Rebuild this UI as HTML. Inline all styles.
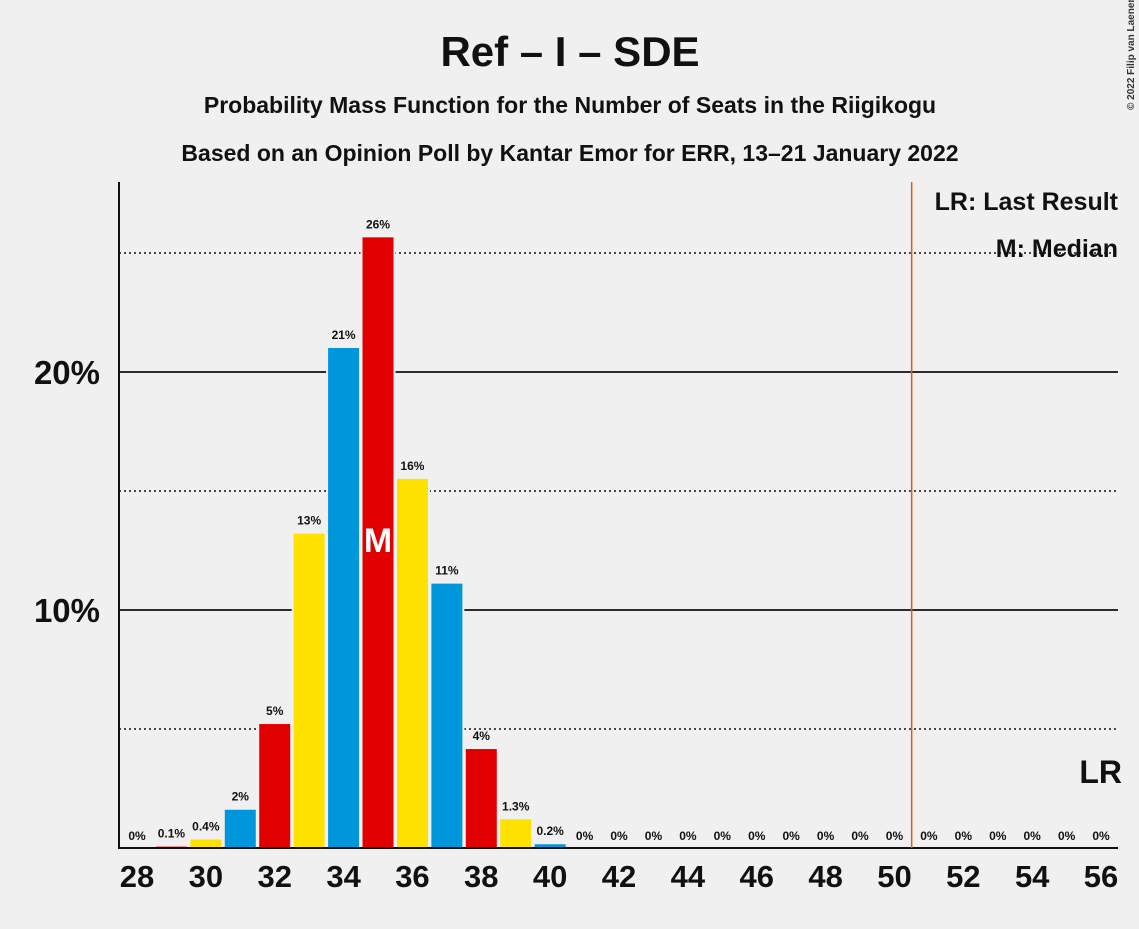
<!DOCTYPE html>
<html><head><meta charset="utf-8"><style>
body{margin:0;background:#f0f0f0;font-family:"Liberation Sans",sans-serif;}
svg text{font-family:"Liberation Sans",sans-serif;font-weight:bold;}
</style></head><body>
<svg id="c" width="1139" height="924" xmlns="http://www.w3.org/2000/svg">
<rect width="1139" height="924" fill="#f0f0f0"/>
<text x="570" y="66" text-anchor="middle" font-size="42" fill="#111">Ref – I – SDE</text>
<text x="570" y="113" text-anchor="middle" font-size="23" fill="#111">Probability Mass Function for the Number of Seats in the Riigikogu</text>
<text x="570" y="161" text-anchor="middle" font-size="23" fill="#111">Based on an Opinion Poll by Kantar Emor for ERR, 13–21 January 2022</text>
<text transform="translate(1134,110) rotate(-90)" font-size="10" font-weight="normal" fill="#333">© 2022 Filip van Laenen</text>
<g id="grid"></g><g id="bars"></g><g id="labels"></g>
<text x="1118" y="210" text-anchor="end" font-size="25" fill="#111">LR: Last Result</text>
<text x="1118" y="257" text-anchor="end" font-size="25" fill="#111">M: Median</text>
</svg>
<script>
const seats=[28,29,30,31,32,33,34,35,36,37,38,39,40,41,42,43,44,45,46,47,48,49,50,51,52,53,54,55,56];
const probs=[0,0.1,0.4,1.65,5.25,13.25,21.05,25.7,15.55,11.15,4.2,1.25,0.2,0,0,0,0,0,0,0,0,0,0,0,0,0,0,0,0];
const probLabels=["0%","0.1%","0.4%","2%","5%","13%","21%","26%","16%","11%","4%","1.3%","0.2%","0%","0%","0%","0%","0%","0%","0%","0%","0%","0%","0%","0%","0%","0%","0%","0%"];
const xTicks=[28,30,32,34,36,38,40,42,44,46,48,50,52,54,56];
const yTicks=[10,20];
const yDotted=[5,15,25];
const median=35, lastResult=50.5;
const NS="http://www.w3.org/2000/svg";
const X=s=>137+(s-28)*34.43, Y=v=>848-v*23.8;
const colors=["#FFE100","#0096DB","#E10000"];
function mk(t,a,p){const e=document.createElementNS(NS,t);for(const k in a)e.setAttribute(k,a[k]);p.appendChild(e);return e;}
const g=document.getElementById('grid'),b=document.getElementById('bars'),l=document.getElementById('labels');
yDotted.forEach(v=>{const e=mk('line',{x1:119,x2:1118,y1:Y(v),y2:Y(v),stroke:'#111','stroke-width':1.5,'stroke-dasharray':'2,3'},g);

});
yTicks.forEach(v=>{const e=mk('line',{x1:119,x2:1118,y1:Y(v),y2:Y(v),stroke:'#111','stroke-width':1.8},g);


const t=mk('text',{x:100,y:Y(v)+12,'text-anchor':'end','font-size':33,fill:'#111'},l);t.textContent=v+'%';

});
seats.forEach((s,i)=>{const v=probs[i];
if(v>0){const r=mk('rect',{x:X(s)-16.5,y:Y(v),width:33,height:848-Y(v),fill:colors[s%3],stroke:'#f0f0f0','stroke-width':2},b);

}
const t=mk('text',{x:X(s),y:Y(v)-8,'text-anchor':'middle','font-size':12,fill:'#111'},l);t.textContent=probLabels[i];


if(s===median){const m=mk('text',{x:X(s),y:Y(v/2)+10,'text-anchor':'middle','font-size':34,fill:'#fff'},l);m.textContent='M';

}});
xTicks.forEach(s=>{const t=mk('text',{x:X(s),y:887,'text-anchor':'middle','font-size':31,fill:'#111'},l);t.textContent=s;

});
const ax=mk('line',{x1:119,x2:119,y1:182,y2:849,stroke:'#111','stroke-width':2},l);


const bx=mk('line',{x1:118,x2:1118,y1:848,y2:848,stroke:'#111','stroke-width':2},l);


const lr=mk('line',{x1:X(lastResult),x2:X(lastResult),y1:182,y2:848,stroke:'#E06000','stroke-width':1.5},l);


const lt=mk('text',{x:1122,y:783,'text-anchor':'end','font-size':32,fill:'#111'},l);lt.textContent='LR';


</script>
</body></html>
